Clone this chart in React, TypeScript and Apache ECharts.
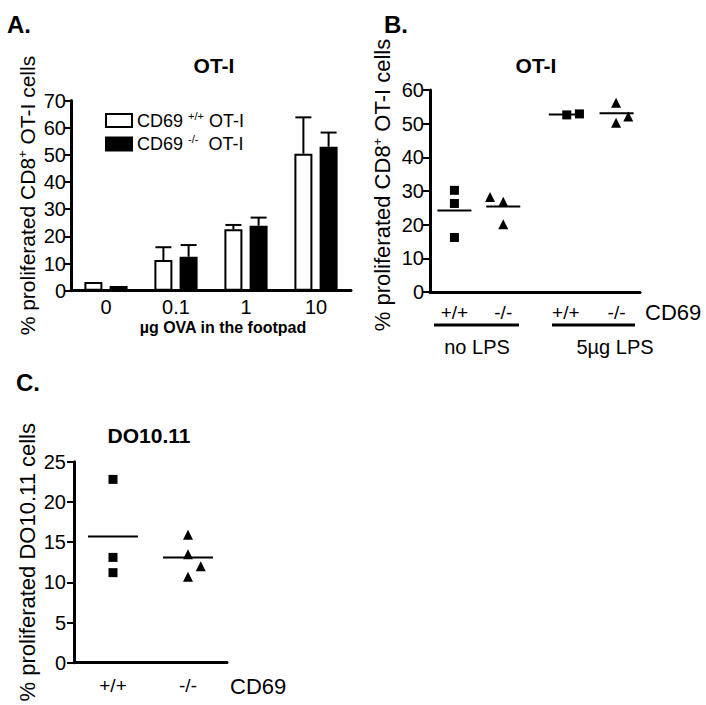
import React, { useEffect, useRef } from "react";
import * as echarts from "echarts";

const FONT = "'Liberation Sans', Arial, Helvetica, sans-serif";

// Panel A: bar chart
const doseCategories = ["0", "0.1", "1", "10"];
const wtMeans = [3.2, 11.3, 22.6, 50.4];
const wtErrors = [0, 4.7, 1.6, 13.4];
const koMeans = [1.7, 12.5, 23.9, 53.0];
const koErrors = [0, 4.3, 3.0, 5.2];
const legendNames = ["CD69 +/+ OT-I", "CD69 -/- OT-I"];

// Panel B: scatter, OT-I with/without LPS
const groupLabelsB = ["+/+", "-/-", "+/+", "-/-"];
const groupXB = [1, 2, 3.28, 4.32];
const noLpsWtX = [1, 1, 1];
const noLpsWtY = [30.2, 26.3, 16.2];
const noLpsKoX = [1.73, 2, 2];
const noLpsKoY = [28.2, 26.8, 20.1];
const lpsWtX = [3.3, 3.56];
const lpsWtY = [52.6, 52.9];
const lpsKoX = [4.31, 4.31, 4.56];
const lpsKoY = [56.2, 50.3, 52.1];
const meansB = [24.2, 25.4, 52.7, 53.1];

// Panel C: scatter, DO10.11
const groupLabelsC = ["+/+", "-/-"];
const groupXC = [1, 2];
const doWtX = [1, 1, 1];
const doWtY = [22.8, 13.1, 11.2];
const doKoX = [2, 2, 2.17, 2];
const doKoY = [15.9, 13.5, 12.0, 10.7];
const meansC = [15.7, 13.1];

const zip = (xs: number[], ys: number[]) => xs.map((x, i) => [x, ys[i]]);

const yTitleRich = (size: number) => ({
  a: { fontSize: size, fontFamily: FONT, color: "#000" },
  sup: { fontSize: Math.round(size * 0.6), fontFamily: FONT, color: "#000", padding: [0, 0, 9, 0] },
});

function meanLineSeries(xAxisIndex: number, yAxisIndex: number, xs: number[], ys: number[], half: number) {
  return {
    type: "custom",
    xAxisIndex,
    yAxisIndex,
    silent: true,
    data: xs.map((x, i) => [x, ys[i]]),
    renderItem: (params: any, api: any) => {
      const p = api.coord([api.value(0), api.value(1)]);
      return {
        type: "line",
        shape: { x1: p[0] - half, y1: p[1], x2: p[0] + half, y2: p[1] },
        style: { stroke: "#000", lineWidth: 2 },
      };
    },
    z: 3,
  };
}

function errorSeries(means: number[], errs: number[], sign: number) {
  return {
    type: "custom",
    xAxisIndex: 0,
    yAxisIndex: 0,
    silent: true,
    data: means.map((m, i) => [i, m, errs[i]]),
    renderItem: (params: any, api: any) => {
      const e = api.value(2);
      if (!e) return { type: "group", children: [] };
      const base = api.coord([api.value(0), api.value(1)]);
      const top = api.coord([api.value(0), api.value(1) + e]);
      const cx = base[0] + sign * 12.6;
      return {
        type: "group",
        children: [
          { type: "line", shape: { x1: cx, y1: base[1], x2: cx, y2: top[1] }, style: { stroke: "#000", lineWidth: 2 } },
          { type: "line", shape: { x1: cx - 8, y1: top[1], x2: cx + 8, y2: top[1] }, style: { stroke: "#000", lineWidth: 2 } },
        ],
      };
    },
    z: 4,
  };
}

const axisLineStyle = { lineStyle: { color: "#000", width: 3 } };
const dotStyle = { color: "#000", opacity: 1 };

function scatter(xAxisIndex: number, symbol: string, xs: number[], ys: number[]) {
  return {
    type: "scatter",
    xAxisIndex,
    yAxisIndex: xAxisIndex,
    symbol,
    symbolSize: symbol === "triangle" ? 10 : 9,
    itemStyle: dotStyle,
    data: zip(xs, ys),
    z: 4,
  };
}

export default function App() {
  const ref = useRef<HTMLDivElement>(null);
  useEffect(() => {
    if (!ref.current) return;
    const chart = echarts.init(ref.current, null, { renderer: "svg" });
    const option: any = {
      animation: false,
      backgroundColor: "#fff",
      textStyle: { fontFamily: FONT, color: "#000" },
      grid: [
        { left: 71, top: 100.5, width: 280, height: 190.2 },
        { left: 430, top: 90, width: 210, height: 202 },
        { left: 74, top: 461.7, width: 153, height: 201 },
      ],
      legend: {
        left: 100,
        top: 105,
        orient: "vertical",
        icon: "rect",
        itemWidth: 26,
        itemHeight: 13,
        itemGap: 4,
        data: legendNames,
        selectedMode: false,
        textStyle: {
          fontSize: 18,
          fontFamily: FONT,
          color: "#000",
          rich: {
            a: { fontSize: 18, fontFamily: FONT, color: "#000", lineHeight: 21 },
            sup: { fontSize: 11, fontFamily: FONT, color: "#000", verticalAlign: "top", lineHeight: 11 },
          },
        },
        formatter: (name: string) => {
          const parts = name.split(" ");
          const pad = parts[1] === "-/-" ? "  " : " ";
          return `{a|${parts[0]} }{sup|${parts[1]}}{a|${pad}${parts[2]}}`;
        },
      },
      xAxis: [
        {
          gridIndex: 0,
          type: "category",
          data: doseCategories,
          axisLine: axisLineStyle,
          axisTick: { alignWithLabel: true, length: 5, lineStyle: { color: "#000", width: 2 } },
          axisLabel: { fontSize: 20, color: "#000", fontFamily: FONT, margin: 6, lineHeight: 20 },
        },
        {
          gridIndex: 1,
          type: "value",
          min: 0.5,
          max: 4.8,
          splitLine: { show: false },
          axisLine: axisLineStyle,
          axisTick: { show: false },
          axisLabel: {
            fontSize: 19,
            color: "#000",
            fontFamily: FONT,
            margin: 11,
            customValues: groupXB,
            formatter: (v: number) => {
              const i = groupXB.indexOf(v);
              return i >= 0 ? groupLabelsB[i] : "";
            },
          },
        },
        {
          gridIndex: 2,
          type: "value",
          min: 0.48,
          max: 2.52,
          splitLine: { show: false },
          axisLine: axisLineStyle,
          axisTick: { show: false },
          axisLabel: {
            fontSize: 19,
            color: "#000",
            fontFamily: FONT,
            margin: 13,
            customValues: groupXC,
            formatter: (v: number) => {
              const i = groupXC.indexOf(v);
              return i >= 0 ? groupLabelsC[i] : "";
            },
          },
        },
      ],
      yAxis: [
        {
          gridIndex: 0,
          type: "value",
          min: 0,
          max: 70,
          interval: 10,
          splitLine: { show: false },
          axisLine: { show: true, ...axisLineStyle },
          axisTick: { show: true, length: 6, lineStyle: { color: "#000", width: 2 } },
          axisLabel: { fontSize: 20, color: "#000", fontFamily: FONT, margin: 5 },
          name: "{a|% proliferated CD8}{sup|+}{a| OT-I cells}",
          nameLocation: "middle",
          nameRotate: 90,
          nameGap: 33,
          nameTextStyle: { rich: yTitleRich(21) },
        },
        {
          gridIndex: 1,
          type: "value",
          min: 0,
          max: 60,
          interval: 10,
          splitLine: { show: false },
          axisLine: { show: true, ...axisLineStyle },
          axisTick: { show: true, length: 7, lineStyle: { color: "#000", width: 2 } },
          axisLabel: { fontSize: 20, color: "#000", fontFamily: FONT, margin: 6 },
          name: "{a|% proliferated CD8}{sup|+}{a| OT-I cells}",
          nameLocation: "middle",
          nameRotate: 90,
          nameGap: 37,
          nameTextStyle: { rich: yTitleRich(22), padding: [0, 0, 0, 12] },
        },
        {
          gridIndex: 2,
          type: "value",
          min: 0,
          max: 25,
          interval: 5,
          splitLine: { show: false },
          axisLine: { show: true, ...axisLineStyle },
          axisTick: { show: true, length: 7, lineStyle: { color: "#000", width: 2 } },
          axisLabel: { fontSize: 20, color: "#000", fontFamily: FONT, margin: 8 },
          name: "% proliferated DO10.11 cells",
          nameLocation: "middle",
          nameRotate: 90,
          nameGap: 36,
          nameTextStyle: { fontSize: 22, color: "#000", fontFamily: FONT },
        },
      ],
      series: [
        {
          name: legendNames[0],
          type: "bar",
          xAxisIndex: 0,
          yAxisIndex: 0,
          data: wtMeans,
          barWidth: 18,
          barGap: "40%",
          itemStyle: { color: "#fff", borderColor: "#000", borderWidth: 2 },
        },
        {
          name: legendNames[1],
          type: "bar",
          xAxisIndex: 0,
          yAxisIndex: 0,
          data: koMeans,
          barWidth: 18,
          itemStyle: { color: "#000", borderColor: "#000", borderWidth: 2 },
        },
        errorSeries(wtMeans, wtErrors, -1),
        errorSeries(koMeans, koErrors, 1),
        scatter(1, "rect", noLpsWtX, noLpsWtY),
        scatter(1, "triangle", noLpsKoX, noLpsKoY),
        scatter(1, "rect", lpsWtX, lpsWtY),
        scatter(1, "triangle", lpsKoX, lpsKoY),
        meanLineSeries(1, 1, groupXB, meansB, 17),
        scatter(2, "rect", doWtX, doWtY),
        scatter(2, "triangle", doKoX, doKoY),
        meanLineSeries(2, 2, groupXC, meansC, 25),
      ],
      graphic: [
        { type: "text", left: 7, top: 12, style: { text: "A.", fontSize: 24, fontWeight: "bold", fontFamily: FONT, fill: "#000" } },
        { type: "text", left: 384, top: 12, style: { text: "B.", fontSize: 24, fontWeight: "bold", fontFamily: FONT, fill: "#000" } },
        { type: "text", left: 16, top: 370, style: { text: "C.", fontSize: 24, fontWeight: "bold", fontFamily: FONT, fill: "#000" } },
        { type: "text", x: 214, y: 65, style: { text: "OT-I", fontSize: 21, fontWeight: "bold", fontFamily: FONT, fill: "#000", align: "center", verticalAlign: "middle" } },
        { type: "text", x: 536, y: 65, style: { text: "OT-I", fontSize: 21, fontWeight: "bold", fontFamily: FONT, fill: "#000", align: "center", verticalAlign: "middle" } },
        { type: "text", x: 149, y: 435, style: { text: "DO10.11", fontSize: 21, fontWeight: "bold", fontFamily: FONT, fill: "#000", align: "center", verticalAlign: "middle" } },
        { type: "text", x: 223, y: 327, style: { text: "µg OVA in the footpad", fontSize: 16, fontWeight: "bold", fontFamily: FONT, fill: "#000", align: "center", verticalAlign: "middle" } },
        { type: "text", x: 645, y: 312, style: { text: "CD69", fontSize: 22, fontFamily: FONT, fill: "#000", align: "left", verticalAlign: "middle" } },
        { type: "text", x: 230, y: 686, style: { text: "CD69", fontSize: 22, fontFamily: FONT, fill: "#000", align: "left", verticalAlign: "middle" } },
        { type: "line", shape: { x1: 434, y1: 325, x2: 519, y2: 325 }, style: { stroke: "#000", lineWidth: 3 } },
        { type: "line", shape: { x1: 552, y1: 325, x2: 635, y2: 325 }, style: { stroke: "#000", lineWidth: 3 } },
        { type: "text", x: 477, y: 347, style: { text: "no LPS", fontSize: 20, fontFamily: FONT, fill: "#000", align: "center", verticalAlign: "middle" } },
        { type: "text", x: 615, y: 347, style: { text: "5µg LPS", fontSize: 20, fontFamily: FONT, fill: "#000", align: "center", verticalAlign: "middle" } },
      ],
    };
    chart.setOption(option);
    return () => chart.dispose();
  }, []);
  return (
    <div
      ref={ref}
      style={{ position: "fixed", left: 0, top: 0, width: 706, height: 705, background: "#fff" }}
    />
  );
}
